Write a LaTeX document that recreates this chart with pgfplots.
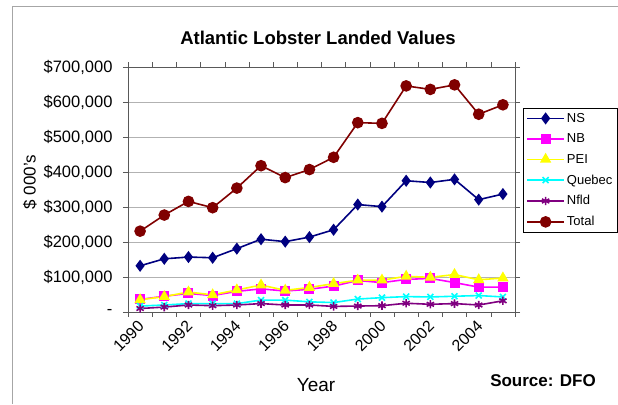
\documentclass[border=0pt]{standalone}
\usepackage{fontspec}
\setmainfont{Liberation Sans}
\usepackage{pgfplots}
\pgfplotsset{compat=1.18}
\usepackage{pgfplotstable}

\definecolor{nscol}{RGB}{0,0,128}
\definecolor{nbcol}{RGB}{255,0,255}
\definecolor{peicol}{RGB}{255,255,0}
\definecolor{qccol}{RGB}{0,255,255}
\definecolor{nfcol}{RGB}{128,0,128}
\definecolor{totcol}{RGB}{128,0,0}

% landed values, $000's, year index 0 = 1990
\pgfplotstableread{
i  NS     NB    PEI    QC     NF    Total
0  132000 36000 35000  17000  10000 231000
1  152000 45000 44000  20000  14000 277000
2  157000 53000 57000  24000  20000 316000
3  155000 47000 49000  24000  18000 298000
4  181000 59000 63000  24000  20000 354000
5  208000 66000 77000  34000  24000 418000
6  201000 60000 62000  34000  20000 384000
7  214000 65000 70000  29000  20000 407000
8  235000 74000 81000  27000  16000 442000
9  307000 90000 91000  37000  17000 541000
10 301000 84000 91000  41000  18000 539000
11 375000 93000 102000 44000  25000 646000
12 370000 96000 99000  43000  22000 636000
13 379000 84000 107000 45000  24000 649000
14 321000 71000 92000  47000  20000 565000
15 337000 71000 97000  43000  32000 592000
}\lobster

\begin{document}
\begin{tikzpicture}[x=1pt,y=1pt]
\path[use as bounding box] (0,0) rectangle (618,404);
\draw[gray!70] (12,0) -- (12,398) -- (618,398);
\node[font=\fontsize{18.5}{21}\selectfont\bfseries] at (318,366) {Atlantic Lobster Landed Values};
\node[font=\fontsize{19}{22}\selectfont] at (316,19) {Year};
\node[font=\fontsize{17}{20}\selectfont\bfseries] at (543,23) {Source: DFO};
\node[font=\fontsize{17}{20}\selectfont, rotate=90] at (30,222) {\$ 000's};
\begin{axis}[
  at={(128pt,92pt)}, anchor=south west,
  scale only axis, width=387pt, height=245pt,
  xmin=-0.5, xmax=15.5, ymin=0, ymax=700000,
  axis line style={gray!70!black},
  tick align=outside, major tick length=5pt,
  tick style={gray!70!black, thin},
  xtick={-0.5,0.5,...,15.5}, xticklabels={},
  extra x ticks={0,2,...,14},
  extra x tick labels={1990,1992,1994,1996,1998,2000,2002,2004},
  extra x tick style={major tick length=0pt},
  xticklabel style={rotate=45, anchor=east, font=\fontsize{16}{19}\selectfont, xshift=-4pt, yshift=-9pt},
  ytick={0,100000,...,700000},
  yticklabels={-,{\$100,000},{\$200,000},{\$300,000},{\$400,000},{\$500,000},{\$600,000},{\$700,000}},
  yticklabel style={font=\fontsize{16.5}{19}\selectfont, xshift=-7pt},
  scaled y ticks=false,
  ymajorgrids, grid style={gray!60, line width=0.8pt},
  every axis plot/.append style={line width=1.6pt},
  legend style={at={(1.021,0.833)}, anchor=north west, draw=black, thin,
    font=\fontsize{13}{15}\selectfont, row sep=6pt, inner sep=3pt},
  legend cell align=left,
  legend image code/.code={\draw[mark repeat=2,mark phase=2] plot coordinates {(0cm,0cm) (0.65cm,0cm) (1.3cm,0cm)};},
]
\addplot[nscol, mark=diamond*, mark size=4.8pt] table[x=i,y=NS] {\lobster};
\addlegendentry{NS}
\addplot[nbcol, mark=square*, mark size=4.2pt] table[x=i,y=NB] {\lobster};
\addlegendentry{NB}
\addplot[peicol, mark=triangle*, mark size=5pt] table[x=i,y=PEI] {\lobster};
\addlegendentry{PEI}
\addplot[qccol, mark=x, mark size=4.2pt] table[x=i,y=QC] {\lobster};
\addlegendentry{Quebec}
\addplot[nfcol, mark=asterisk, mark size=4.2pt] table[x=i,y=NF] {\lobster};
\addlegendentry{Nfld}
\addplot[totcol, mark=*, mark size=5pt] table[x=i,y=Total] {\lobster};
\addlegendentry{Total}
\end{axis}
\end{tikzpicture}
\end{document}
